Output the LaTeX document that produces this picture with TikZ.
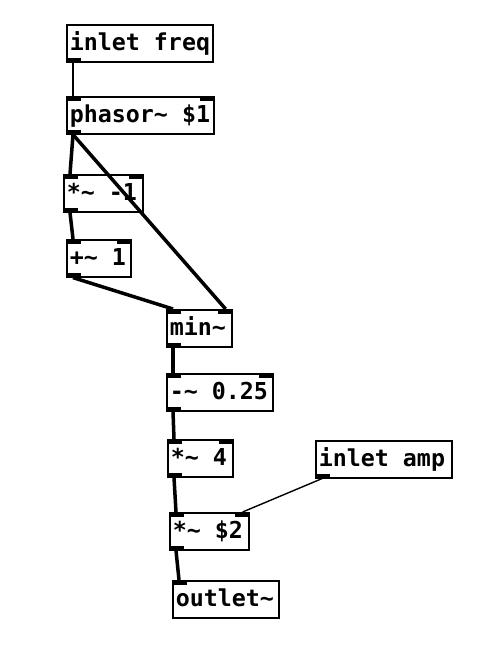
\documentclass[tikz,border=0pt]{standalone}
\usepackage{fontspec}
\newfontfamily\pdfont{DejaVu Sans Mono}
\newcommand\pdsp{\hphantom{x}}
\newcommand\pdTL[1]{\fill (#1.north west) rectangle ++(15,5);}
\newcommand\pdTR[1]{\fill (#1.north east) rectangle ++(-15,5);}
\newcommand\pdBL[1]{\fill (#1.south west) rectangle ++(15,-5);}
\begin{document}
\begin{tikzpicture}[x=1bp,y=-1bp,
  pdbox/.style={draw, line width=1.6bp, anchor=north west, inner xsep=0pt, inner ysep=0pt,
    minimum height=37bp, align=left, text height=19bp, text depth=4bp,
    font=\pdfont\bfseries\fontsize{23.3bp}{24bp}\selectfont},
  sig/.style={line width=3.5bp},
  ctl/.style={line width=1.4bp}]
\useasboundingbox (0,0) rectangle (500,646);
\fill[white] (0,0) rectangle (500,646);
\node[pdbox, minimum width=146bp, text width=140bp] (freq) at (66,24) {inlet\pdsp freq};
\node[pdbox, minimum width=147bp, text width=141bp] (phasor) at (66,96) {phasor\char`\~\pdsp\$1};
\node[pdbox, minimum width=79bp, text width=73bp] (neg) at (63,174) {*\char`\~\pdsp-1};
\node[pdbox, minimum width=64bp, text width=58bp] (add) at (66,239) {+\char`\~\pdsp1};
\node[pdbox, minimum width=65bp, text width=59bp] (min) at (166,309) {min\char`\~};
\node[pdbox, minimum width=106bp, text width=100bp] (sub) at (166,373) {-\char`\~\pdsp0.25};
\node[pdbox, minimum width=65bp, text width=59bp] (mulf) at (167,439) {*\char`\~\pdsp4};
\node[pdbox, minimum width=136bp, text width=130bp] (amp) at (315,440) {inlet\pdsp amp};
\node[pdbox, minimum width=79bp, text width=73bp] (mult) at (169,512) {*\char`\~\pdsp\$2};
\node[pdbox, minimum width=106bp, text width=100bp] (out) at (172,580) {outlet\char`\~};
% ports
\pdBL{freq}
\foreach \n in {phasor,neg,add,min,sub,mulf,mult}{\pdTL{\n}\pdTR{\n}\pdBL{\n}}
\pdBL{amp}
\pdTL{out}
% connections
\draw[ctl] ([xshift=7bp]freq.south west) -- ([xshift=7bp]phasor.north west);
\draw[sig] ([xshift=7bp]phasor.south west) -- ([xshift=7bp]neg.north west);
\draw[sig] ([xshift=7bp]phasor.south west) -- ([xshift=-7bp]min.north east);
\draw[sig] ([xshift=7bp]neg.south west) -- ([xshift=7bp]add.north west);
\draw[sig] ([xshift=7bp]add.south west) -- ([xshift=7bp]min.north west);
\draw[sig] ([xshift=7bp]min.south west) -- ([xshift=7bp]sub.north west);
\draw[sig] ([xshift=7bp]sub.south west) -- ([xshift=7bp]mulf.north west);
\draw[sig] ([xshift=7bp]mulf.south west) -- ([xshift=7bp]mult.north west);
\draw[ctl] ([xshift=7bp]amp.south west) -- ([xshift=-7bp]mult.north east);
\draw[sig] ([xshift=7bp]mult.south west) -- ([xshift=7bp]out.north west);
\end{tikzpicture}
\end{document}
